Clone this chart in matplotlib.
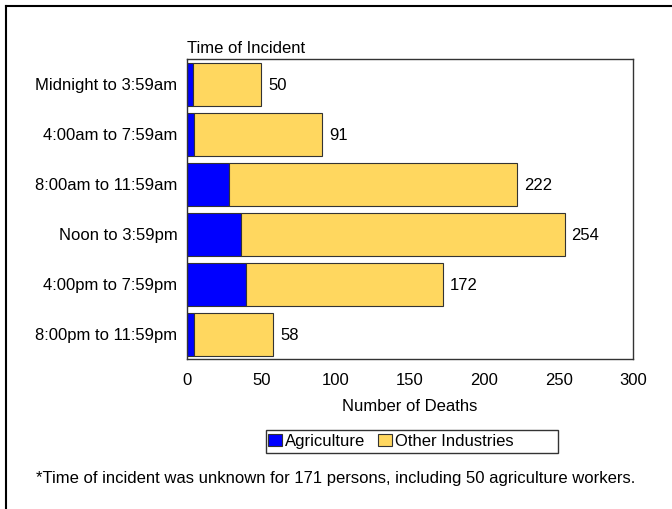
import matplotlib
matplotlib.use("Agg")
import matplotlib.pyplot as plt
from matplotlib.patches import Rectangle
from matplotlib.lines import Line2D

categories = ["Midnight to 3:59am", "4:00am to 7:59am", "8:00am to 11:59am",
              "Noon to 3:59pm", "4:00pm to 7:59pm", "8:00pm to 11:59pm"]
totals = [50, 91, 222, 254, 172, 58]
agriculture = [4, 5, 28, 36, 40, 5]
other = [t - a for t, a in zip(totals, agriculture)]
xticks = [0, 50, 100, 150, 200, 250, 300]

plt.rcParams['font.family'] = ['Liberation Sans', 'DejaVu Sans']
FS = 12
W, H = 672, 509
fig = plt.figure(figsize=(W / 100, H / 100), dpi=100)
ax = fig.add_axes([187 / W, 1 - 359 / H, (633 - 187) / W, (359 - 59) / H])

y = list(range(len(categories)))
blue = "#0000FF"
yellow = "#FFD75F"
ax.barh(y, agriculture, height=0.86, color=blue, edgecolor="#333333", linewidth=0.8, label="Agriculture")
ax.barh(y, other, left=agriculture, height=0.86, color=yellow, edgecolor="#333333", linewidth=0.8, label="Other Industries")
for yi, t in zip(y, totals):
    ax.text(t + 4.7, yi + 0.03, str(t), va="center", ha="left", fontsize=FS)

ax.set_xlim(0, 300)
ax.set_ylim(len(categories) - 0.5, -0.5)
ax.set_yticks(y)
ax.set_yticklabels(categories, fontsize=FS)
ax.set_xticks(xticks)
ax.set_xticklabels([str(v) for v in xticks], fontsize=FS)
ax.tick_params(axis="y", length=0, pad=7)
ax.tick_params(axis="x", length=0, pad=10)
ax.set_xlabel("Number of Deaths", fontsize=FS, labelpad=8)
for s in ax.spines.values():
    s.set_color("#333333")
    s.set_linewidth(1.0)
ax.text(0, 1.01, "Time of Incident", transform=ax.transAxes, ha="left", va="bottom", fontsize=FS)

# legend box drawn separately (wider than content)
fig.add_artist(Rectangle((266 / W, 1 - 453 / H), (558 - 266) / W, 23 / H, transform=fig.transFigure,
                         facecolor="white", edgecolor="#333333", lw=1.0))
handles, labels = ax.get_legend_handles_labels()
leg = fig.legend(handles, labels, loc="center left", bbox_to_anchor=(268 / W, 1 - 441.5 / H), ncol=2,
                 frameon=False, fontsize=FS, handlelength=0.85, handleheight=0.7,
                 handletextpad=0.15, columnspacing=0.8, borderpad=0, borderaxespad=0)

fig.text(336 / W, 1 - 478 / H,
         "*Time of incident was unknown for 171 persons, including 50 agriculture workers.",
         ha="center", va="center", fontsize=FS)

fig.add_artist(Line2D([6 / W, 6 / W], [0, 1 - 6 / H], transform=fig.transFigure, color="black", lw=1.5))
fig.add_artist(Line2D([6 / W, 1], [1 - 6 / H, 1 - 6 / H], transform=fig.transFigure, color="black", lw=1.5))

fig.savefig("out.png", dpi=100)
